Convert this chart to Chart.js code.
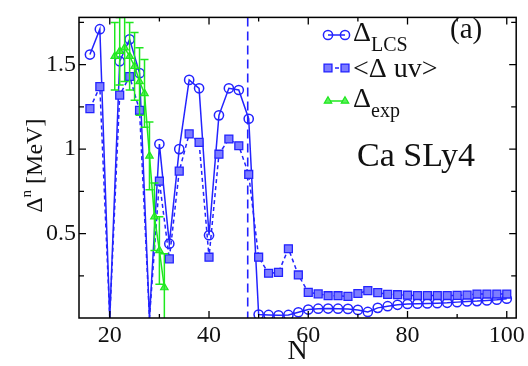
<!DOCTYPE html>
<html>
<head>
<meta charset="utf-8">
<script src="https://cdn.jsdelivr.net/npm/chart.js@4.4.1/dist/chart.umd.min.js"></script>
<style>
  html, body { margin: 0; padding: 0; background: #fff; }
  canvas { display: block; }
</style>
</head>
<body>
<canvas id="gapChart" width="528" height="366"></canvas>
<script>
// Neutron numbers of the even Ca isotopes in the calculation
const neutronNumbers = [16, 18, 20, 22, 24, 26, 28, 30, 32, 34, 36, 38, 40, 42, 44, 46, 48, 50,
  52, 54, 56, 58, 60, 62, 64, 66, 68, 70, 72, 74, 76, 78, 80, 82, 84, 86, 88, 90, 92, 94, 96, 98, 100];

// Neutron pairing gap, Delta_LCS (MeV)
const gapLCS = [1.56, 1.71, 0.00, 1.52, 1.65, 1.45, 0.00, 1.03, 0.44, 1.00, 1.41, 1.36, 0.49, 1.20,
  1.36, 1.35, 1.18, 0.020, 0.018, 0.016, 0.018, 0.034, 0.050, 0.055, 0.056, 0.055, 0.054, 0.048,
  0.036, 0.060, 0.070, 0.078, 0.083, 0.085, 0.086, 0.088, 0.090, 0.094, 0.098, 0.100, 0.104, 0.108, 0.114];

// Average gap <Delta uv> (MeV)
const gapUV = [1.24, 1.37, 0.00, 1.32, 1.43, 1.23, 0.00, 0.81, 0.35, 0.87, 1.09, 1.04, 0.36, 0.97,
  1.06, 1.02, 0.85, 0.36, 0.265, 0.27, 0.41, 0.255, 0.152, 0.143, 0.132, 0.132, 0.128, 0.145,
  0.162, 0.150, 0.140, 0.138, 0.135, 0.133, 0.133, 0.133, 0.133, 0.134, 0.136, 0.142, 0.142, 0.142, 0.142];

// Experimental gaps with uncertainties (MeV)
const expN = [21, 22, 23, 24, 25, 26, 27, 28, 29, 30, 31];
const gapExp = [1.55, 1.58, 1.60, 1.55, 1.49, 1.40, 1.33, 0.96, 0.60, 0.40, 0.18];
const gapExpErr = [0.20, 0.20, 0.20, 0.20, 0.20, 0.20, 0.20, 0.20, 0.20, 0.20, 0.20];

// Axis ticks
const xTickValues = [20, 40, 60, 80, 100];
const xMinorTicks = [30, 50, 70, 90];
const yTickValues = [0.5, 1, 1.5];
const yMinorTicks = [0.25, 0.75, 1.25, 1.75];

// Neutron drip line position
const dripLineN = 47.8;

const BLUE = '#2323ff';
const SQUARE_FILL = '#7c7cff';
const GREEN = '#1fe81f';
const SERIF = '"Liberation Serif", "Times New Roman", serif';

Chart.defaults.font.family = SERIF;

const toPoints = (xs, ys) => xs.map((x, i) => ({ x: x, y: ys[i] }));
const hideAtZero = (r) => (ctx) => (ctx.raw && ctx.raw.y === 0 ? 0 : r);

// Dashed vertical line marking the drip line
const dripLine = {
  id: 'dripLine',
  beforeDatasetsDraw(chart) {
    const { ctx, chartArea: a, scales: { x } } = chart;
    const px = x.getPixelForValue(dripLineN);
    ctx.save();
    ctx.strokeStyle = BLUE;
    ctx.lineWidth = 1.6;
    ctx.setLineDash([9, 5]);
    ctx.beginPath();
    ctx.moveTo(px, a.top);
    ctx.lineTo(px, a.bottom);
    ctx.stroke();
    ctx.restore();
  }
};

// Error bars on the experimental points
const expErrorBars = {
  id: 'expErrorBars',
  afterDatasetsDraw(chart) {
    const { ctx, chartArea: a, scales: { x, y } } = chart;
    ctx.save();
    ctx.beginPath();
    ctx.rect(a.left, a.top, a.right - a.left, a.bottom - a.top);
    ctx.clip();
    ctx.strokeStyle = GREEN;
    ctx.lineWidth = 1.5;
    ctx.beginPath();
    expN.forEach((n, i) => {
      const px = x.getPixelForValue(n);
      const hi = y.getPixelForValue(gapExp[i] + gapExpErr[i]);
      const lo = y.getPixelForValue(gapExp[i] - gapExpErr[i]);
      ctx.moveTo(px, hi); ctx.lineTo(px, lo);
      ctx.moveTo(px - 4, hi); ctx.lineTo(px + 4, hi);
      ctx.moveTo(px - 4, lo); ctx.lineTo(px + 4, lo);
    });
    ctx.stroke();
    ctx.restore();
  }
};

// Frame with inward ticks on all four sides
const frameTicks = {
  id: 'frameTicks',
  afterDraw(chart) {
    const { ctx, chartArea: a, scales: { x, y } } = chart;
    ctx.save();
    ctx.strokeStyle = '#000';
    ctx.lineWidth = 1.5;
    ctx.strokeRect(a.left, a.top, a.right - a.left, a.bottom - a.top);
    ctx.lineWidth = 1.3;
    ctx.beginPath();
    const xt = (v, len) => {
      const px = x.getPixelForValue(v);
      ctx.moveTo(px, a.bottom); ctx.lineTo(px, a.bottom - len);
      ctx.moveTo(px, a.top); ctx.lineTo(px, a.top + len);
    };
    const yt = (v, len) => {
      const py = y.getPixelForValue(v);
      ctx.moveTo(a.left, py); ctx.lineTo(a.left + len, py);
      ctx.moveTo(a.right, py); ctx.lineTo(a.right - len, py);
    };
    xTickValues.forEach(v => xt(v, 7));
    xMinorTicks.forEach(v => xt(v, 4));
    yTickValues.forEach(v => yt(v, 7));
    yMinorTicks.forEach(v => yt(v, 5));
    ctx.stroke();
    ctx.restore();
  }
};

// Legend with subscripted labels, panel tag, nucleus label and y-axis title
const annotations = {
  id: 'annotations',
  afterDraw(chart) {
    const { ctx, chartArea: a } = chart;
    const sets = chart.data.datasets;
    const x1 = 328, x2 = 345, tx = 353;
    const rows = [38, 71, 104];
    ctx.save();

    // sample lines and markers
    sets.forEach((ds, i) => {
      const yy = rows[i] - 3;
      ctx.strokeStyle = ds.borderColor;
      ctx.lineWidth = 1.5;
      ctx.setLineDash(ds.borderDash || []);
      ctx.beginPath();
      ctx.moveTo(x1, yy); ctx.lineTo(x2, yy);
      ctx.stroke();
      ctx.setLineDash([]);
      ctx.lineWidth = ds.pointBorderWidth;
      ctx.fillStyle = ds.pointBackgroundColor;
      ctx.strokeStyle = ds.pointBorderColor;
      [x1, x2].forEach(px => {
        Chart.helpers.drawPoint(ctx, {
          pointStyle: ds.pointStyle,
          radius: ds.legendRadius,
          borderWidth: ds.pointBorderWidth
        }, px, yy);
      });
    });

    ctx.fillStyle = '#111';
    ctx.textBaseline = 'alphabetic';
    ctx.textAlign = 'left';

    const withSub = (main, sub, y0) => {
      ctx.font = '28px ' + SERIF;
      ctx.fillText(main, tx, y0);
      const w = ctx.measureText(main).width;
      ctx.font = '20px ' + SERIF;
      ctx.fillText(sub, tx + w, y0 + 10);
    };
    withSub('\u0394', 'LCS', rows[0] + 3);
    ctx.font = '28px ' + SERIF;
    ctx.fillText('<\u0394 uv>', tx, rows[1] + 6);
    withSub('\u0394', 'exp', rows[2] + 3);

    ctx.font = '29px ' + SERIF;
    ctx.fillText('(a)', 450, 38);
    ctx.font = '34px ' + SERIF;
    ctx.fillText('Ca SLy4', 357, 166);

    // y-axis title: Delta with superscript n, rotated
    ctx.translate(42, (a.top + a.bottom) / 2 - 2);
    ctx.rotate(-Math.PI / 2);
    ctx.font = '24px ' + SERIF;
    const parts = [
      { t: '\u0394', size: 24, dy: 0 },
      { t: 'n', size: 15, dy: -11 },
      { t: ' [MeV]', size: 24, dy: 0 }
    ];
    let total = 0;
    parts.forEach(p => { ctx.font = p.size + 'px ' + SERIF; p.w = ctx.measureText(p.t).width; total += p.w; });
    let cx = -total / 2;
    parts.forEach(p => {
      ctx.font = p.size + 'px ' + SERIF;
      ctx.fillText(p.t, cx, p.dy);
      cx += p.w;
    });
    ctx.restore();
  }
};

new Chart(document.getElementById('gapChart'), {
  type: 'line',
  data: {
    datasets: [
      {
        label: 'LCS',
        data: toPoints(neutronNumbers, gapLCS),
        borderColor: BLUE,
        borderWidth: 1.5,
        pointStyle: 'circle',
        pointRadius: hideAtZero(4.6),
        legendRadius: 4.6,
        pointBorderWidth: 1.5,
        pointBorderColor: BLUE,
        pointBackgroundColor: 'rgba(255,255,255,0)',
        tension: 0,
        order: 3
      },
      {
        label: 'uv',
        data: toPoints(neutronNumbers, gapUV),
        borderColor: BLUE,
        borderWidth: 1.5,
        borderDash: [4, 3],
        pointStyle: 'rect',
        pointRadius: hideAtZero(5.6),
        legendRadius: 5.6,
        pointBorderWidth: 1.3,
        pointBorderColor: BLUE,
        pointBackgroundColor: SQUARE_FILL,
        tension: 0,
        order: 2
      },
      {
        label: 'exp',
        data: toPoints(expN, gapExp),
        borderColor: GREEN,
        borderWidth: 1.5,
        pointStyle: 'triangle',
        pointRadius: 4.3,
        legendRadius: 4.3,
        pointBorderWidth: 1.2,
        pointBorderColor: GREEN,
        pointBackgroundColor: '#5cf05c',
        tension: 0,
        order: 1
      }
    ]
  },
  options: {
    responsive: false,
    animation: false,
    devicePixelRatio: 1,
    layout: { padding: { top: 10, right: 11, left: 0, bottom: 0 } },
    plugins: { legend: { display: false }, tooltip: { enabled: false } },
    scales: {
      x: {
        type: 'linear',
        min: 13.8,
        max: 101.9,
        grid: { display: false, drawTicks: false },
        border: { display: false },
        afterBuildTicks: (s) => { s.ticks = xTickValues.map(v => ({ value: v })); },
        afterFit: (s) => { s.height = 48; },
        ticks: {
          padding: 3,
          maxRotation: 0,
          color: '#111',
          font: { family: SERIF, size: 24 }
        },
        title: {
          display: true,
          text: 'N',
          color: '#111',
          padding: 0,
          font: { family: SERIF, size: 28, lineHeight: 1 }
        }
      },
      y: {
        type: 'linear',
        min: 0,
        max: 1.78,
        grid: { display: false, drawTicks: false },
        border: { display: false },
        afterBuildTicks: (s) => { s.ticks = yTickValues.map(v => ({ value: v })); },
        afterFit: (s) => { s.width = 79; },
        ticks: {
          padding: 3,
          color: '#111',
          font: { family: SERIF, size: 24 },
          callback: (v) => String(v)
        }
      }
    }
  },
  plugins: [dripLine, expErrorBars, frameTicks, annotations]
});
</script>
</body>
</html>
